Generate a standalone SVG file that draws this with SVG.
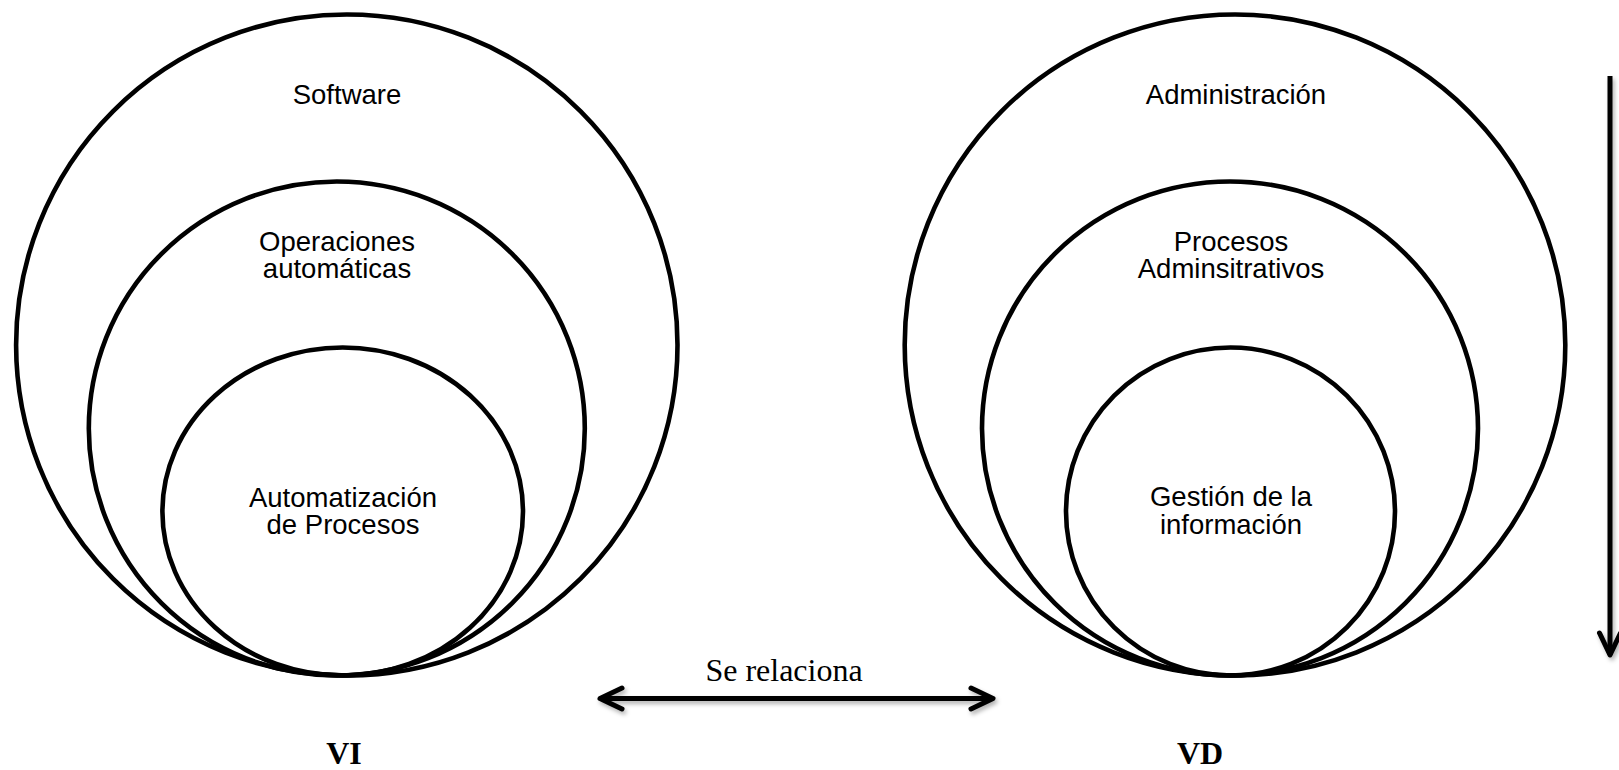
<svg xmlns="http://www.w3.org/2000/svg" width="1619" height="770" viewBox="0 0 1619 770">
  <style>
    .ring { fill: none; stroke: #000; stroke-width: 4.6; }
    .lbl { font-family: "Liberation Sans", Arial, sans-serif; font-size: 27.5px; fill: #000; text-anchor: middle; }
    .rel { font-family: "Liberation Serif", "Times New Roman", serif; font-size: 32px; fill: #000; text-anchor: middle; }
    .var { font-family: "Liberation Serif", "Times New Roman", serif; font-size: 32px; font-weight: bold; fill: #000; text-anchor: middle; }
    .arrow { fill: none; stroke: #000; stroke-width: 5; }
  </style>
  <defs>
    <marker id="head" markerUnits="userSpaceOnUse" markerWidth="40" markerHeight="40" viewBox="-30 -20 40 40" refX="0" refY="0" orient="auto-start-reverse" overflow="visible">
      <path d="M-22,-10.5 L0,0 L-22,10.5" fill="none" stroke="#000" stroke-width="5" stroke-linecap="round" stroke-linejoin="round"/>
    </marker>
    <filter id="shadow" filterUnits="userSpaceOnUse" x="0" y="0" width="1619" height="770">
      <feDropShadow dx="2" dy="3" stdDeviation="2" flood-color="#000" flood-opacity="0.3"/>
    </filter>
  </defs>
  <rect x="0" y="0" width="1619" height="770" fill="#fff"/>

  <g id="vi-software">
    <ellipse class="ring" cx="346.8" cy="345" rx="330.7" ry="330.5"/>
    <text class="lbl" x="347" y="104">Software</text>
  </g>
  <g id="vi-operaciones">
    <ellipse class="ring" cx="336.8" cy="428.5" rx="248" ry="247"/>
    <text class="lbl" x="337" y="251">Operaciones</text>
    <text class="lbl" x="337" y="278">automáticas</text>
  </g>
  <g id="vi-automatizacion">
    <ellipse class="ring" cx="342.7" cy="511.5" rx="180.3" ry="164"/>
    <text class="lbl" x="343" y="506.5">Automatización</text>
    <text class="lbl" x="343" y="534">de Procesos</text>
  </g>
  <g id="vi-label">
    <text class="var" x="344" y="764">VI</text>
  </g>

  <g id="vd-administracion">
    <ellipse class="ring" cx="1235" cy="345" rx="330.3" ry="330.5"/>
    <text class="lbl" x="1236" y="104">Administración</text>
  </g>
  <g id="vd-procesos">
    <ellipse class="ring" cx="1230" cy="428.5" rx="248" ry="247"/>
    <text class="lbl" x="1231" y="251">Procesos</text>
    <text class="lbl" x="1231" y="278">Adminsitrativos</text>
  </g>
  <g id="vd-gestion">
    <ellipse class="ring" cx="1230.5" cy="511.5" rx="164.5" ry="164"/>
    <text class="lbl" x="1231" y="506">Gestión de la</text>
    <text class="lbl" x="1231" y="534">información</text>
  </g>
  <g id="vd-label">
    <text class="var" x="1200" y="764">VD</text>
  </g>

  <g id="connectors">
    <line class="arrow" x1="600" y1="698.5" x2="993" y2="698.5" marker-start="url(#head)" marker-end="url(#head)" filter="url(#shadow)"/>
    <text class="rel" x="784" y="681">Se relaciona</text>
    <line class="arrow" x1="1610" y1="76" x2="1610" y2="655" marker-end="url(#head)" filter="url(#shadow)"/>
  </g>
</svg>
